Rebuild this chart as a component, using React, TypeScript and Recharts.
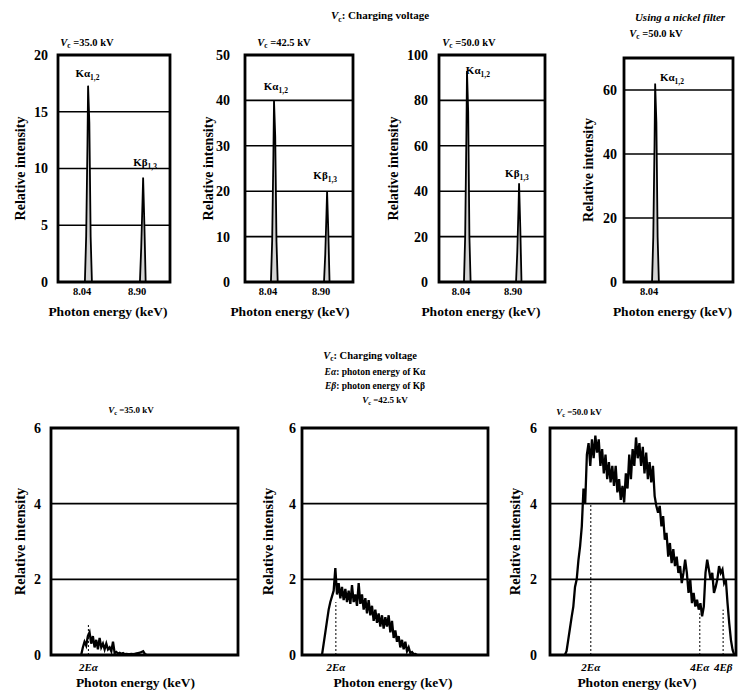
import React from 'react';
import {
  ComposedChart,
  Line,
  Area,
  XAxis,
  YAxis,
  CartesianGrid,
  ReferenceArea,
  ReferenceLine,
  ReferenceDot,
} from 'recharts';

const FONT = "'Liberation Serif', 'DejaVu Serif', serif";

// ---------- Top row: characteristic X-ray lines ----------
const peakEnergies = [7.57, 7.99, 8.01, 8.03, 8.04, 8.06, 8.08, 8.1, 8.85, 8.87, 8.89, 8.9, 8.92, 8.94, 9.32];
const peakIntensity35 = [0, 0, 4, 12, 17.3, 14, 4, 0, 0, 3, 7, 9.2, 5, 0, 0];
const peakIntensity42 = [0, 0, 9, 28, 40, 32, 9, 0, 0, 6, 15, 20, 11, 0, 0];
const peakIntensity50 = [0, 0, 20, 65, 93, 75, 20, 0, 0, 13, 32, 43.5, 24, 0, 0];
const nickelEnergies = [7.54, 7.99, 8.01, 8.03, 8.04, 8.06, 8.08, 8.1, 9.29];
const nickelIntensity = [0, 0, 14, 43, 62, 50, 14, 0, 0];

const peakTicks = [8.04, 8.9];
const peakTickLabels = ['8.04', '8.90'];
const nickelTicks = [8.04];
const nickelTickLabels = ['8.04'];

// ---------- Bottom row: bremsstrahlung spectra ----------
const energy35 = [
  15, 15.25, 15.5, 15.75, 16, 16.25, 16.5, 16.75, 17, 17.25, 17.5, 17.75, 18, 18.25, 18.5, 18.75,
  19, 19.25, 19.5, 19.75, 20, 20.25, 20.5, 20.75, 21, 21.25, 21.5, 21.75, 22, 22.25, 22.5, 22.75,
  23, 23.25, 23.5, 23.75, 24, 24.25, 24.5, 24.75,
];
const spectrum35 = [
  0, 0.2, 0.35, 0.25, 0.5, 0.6, 0.3, 0.5, 0.2, 0.4, 0.15, 0.45, 0.2, 0.3, 0.15, 0.3,
  0.15, 0.2, 0.1, 0.35, 0.05, 0.08, 0.04, 0.06, 0.03, 0.05, 0.02, 0.03, 0.02, 0.02, 0.03, 0.02,
  0.03, 0.04, 0.05, 0.06, 0.08, 0.1, 0.03, 0,
];

const energy42 = [
  14, 14.25, 14.5, 14.75, 15, 15.25, 15.5, 15.75, 16, 16.25, 16.5, 16.75, 17, 17.25, 17.5, 17.75,
  18, 18.25, 18.5, 18.75, 19, 19.25, 19.5, 19.75, 20, 20.25, 20.5, 20.75, 21, 21.25, 21.5, 21.75,
  22, 22.25, 22.5, 22.75, 23, 23.25, 23.5, 23.75, 24, 24.25, 24.5, 24.75, 25, 25.25, 25.5, 25.75,
  26, 26.25, 26.5, 26.75, 27, 27.25, 27.5, 27.75, 28, 28.25,
];
const spectrum42 = [
  0, 0.3, 0.6, 0.9, 1.2, 1.4, 1.55, 1.7, 2.3, 1.6, 1.9, 1.5, 1.8, 1.45, 1.75, 1.4,
  1.7, 1.35, 1.85, 1.4, 1.6, 1.3, 1.9, 1.35, 1.6, 1.2, 1.5, 1.1, 1.45, 1.05, 1.3, 0.9,
  1.2, 0.85, 1.1, 0.75, 1.05, 0.7, 1.0, 0.75, 1.05, 0.6, 0.9, 0.45, 0.65, 0.35, 0.5, 0.2,
  0.4, 0.15, 0.35, 0.1, 0.2, 0.05, 0.08, 0.02, 0.03, 0,
];

const energy50 = [
  12.25, 12.5, 12.75, 13, 13.25, 13.5, 13.75, 14, 14.25, 14.5, 14.75, 15, 15.25, 15.5, 15.75, 16,
  16.25, 16.5, 16.75, 17, 17.25, 17.5, 17.75, 18, 18.25, 18.5, 18.75, 19, 19.25, 19.5, 19.75, 20,
  20.25, 20.5, 20.75, 21, 21.25, 21.5, 21.75, 22, 22.25, 22.5, 22.75, 23, 23.25, 23.5, 23.75, 24,
  24.25, 24.5, 24.75, 25, 25.25, 25.5, 25.75, 26, 26.25, 26.5, 26.75, 27, 27.25, 27.5, 27.75, 28,
  28.25, 28.5, 28.75, 29, 29.25, 29.5, 29.75, 30, 30.25, 30.5, 30.75, 31, 31.25, 31.5, 31.75, 32,
  32.25, 32.5, 32.75, 33, 33.25, 33.5, 33.75, 34, 34.25, 34.5, 34.75, 35, 35.25, 35.5, 35.75, 36,
  36.25, 36.5, 36.75, 37, 37.25,
];
const spectrum50 = [
  0, 0.1, 0.4, 0.7, 1.0, 1.28, 1.8, 2.0, 2.5, 2.88, 3.4, 4.4, 4.0, 5.3, 5.6, 5.0,
  5.7, 5.2, 5.8, 5.35, 5.7, 5.0, 5.44, 4.8, 5.3, 4.65, 5.1, 4.56, 5.0, 4.47, 5.0, 4.3,
  4.65, 4.1, 4.47, 4.03, 4.8, 4.4, 5.3, 4.65, 5.44, 5.0, 5.75, 5.2, 5.6, 5.0, 5.5, 4.8,
  5.35, 4.65, 5.1, 4.56, 5.0, 4.2, 3.94, 3.76, 3.94, 3.4, 3.67, 3.05, 3.23, 2.6, 2.96, 2.43,
  2.8, 2.35, 2.6, 2.17, 2.35, 1.9, 2.17, 2.52, 2.17, 1.64, 2.0, 1.37, 1.64, 1.28, 1.46, 1.2,
  1.37, 1.02, 1.28, 2.17, 2.52, 2.26, 2.0, 2.17, 1.64, 1.8, 2.0, 2.35, 2.17, 2.26, 1.9, 2.0,
  1.37, 0.84, 0.4, 0.13, 0,
];

const E_ALPHA2 = 16.08;
const E_ALPHA4 = 32.16;
const E_BETA4 = 35.6;
const harmonicTicks35 = [E_ALPHA2];
const harmonicTicks50 = [E_ALPHA2, E_ALPHA4, E_BETA4];
const harmonicLabels35 = ['2Eα'];
const harmonicLabels50 = ['2Eα', '4Eα', '4Eβ'];

type Mark = { x: number; top: number };
type PeakLabel = { x: number; y: number; base: string; sub: string };

interface PanelProps {
  box: [number, number, number, number];
  yAxisWidth: number;
  yTickGap: number;
  yLabelOffset: number;
  yLabelFont: number;
  yDomain: [number, number];
  yTicks: number[];
  xDomain: [number, number];
  xTicks: number[];
  xTickLabels: string[];
  xTickItalic: boolean;
  xTickFont: number;
  xTickDx: number;
  xTickGap: number;
  xLabelOffset: number;
  xLabelDx: number;
  energies: number[];
  intensities: number[];
  kind: 'peak' | 'spectrum';
  marks?: Mark[];
  labels?: PeakLabel[];
}

function Panel(p: PanelProps) {
  const [bl, bt, br, bb] = p.box;
  const W = br - bl + p.yAxisWidth + 2;
  const H = bb - bt + 10 + 40;
  const data = p.energies.map((e, i) => ({ e, v: p.intensities[i] }));
  const renderXTick = (props: any) => {
    const { x, y, payload } = props;
    const idx = p.xTicks.indexOf(payload.value);
    return (
      <text
        x={x + p.xTickDx}
        y={y}
        dy="0.71em"
        textAnchor="middle"
        fontFamily={FONT}
        fontWeight="bold"
        fontStyle={p.xTickItalic ? 'italic' : 'normal'}
        fontSize={p.xTickFont}
        fill="#000"
      >
        {idx >= 0 ? p.xTickLabels[idx] : payload.value}
      </text>
    );
  };
  return (
    <div style={{ position: 'absolute', left: bl - p.yAxisWidth, top: bt - 10 }}>
      <ComposedChart width={W} height={H} data={data} margin={{ top: 10, right: 2, bottom: 0, left: 0 }}>
        <CartesianGrid horizontal vertical={false} stroke="#000" strokeWidth={1.6} />
        <XAxis
          type="number"
          dataKey="e"
          domain={p.xDomain}
          ticks={p.xTicks}
          allowDataOverflow
          interval={0}
          height={40}
          axisLine={false}
          tickLine={false}
          tickSize={0}
          tickMargin={p.xTickGap}
          tick={renderXTick}
          label={{
            value: 'Photon energy (keV)',
            position: 'insideBottom',
            offset: p.xLabelOffset,
            dx: p.xLabelDx,
            fill: '#000',
            style: { fontFamily: FONT, fontWeight: 'bold', fontSize: 13.5, fill: '#000' },
          }}
        />
        <YAxis
          type="number"
          domain={p.yDomain}
          ticks={p.yTicks}
          allowDataOverflow
          interval={0}
          width={p.yAxisWidth}
          axisLine={false}
          tickLine={false}
          tickSize={0}
          tickMargin={p.yTickGap}
          tick={{ fontFamily: FONT, fontWeight: 'bold', fontSize: 14, fill: '#000' }}
          label={{
            value: 'Relative intensity',
            angle: -90,
            position: 'insideLeft',
            offset: p.yLabelOffset,
            fill: '#000',
            style: { textAnchor: 'middle', fontFamily: FONT, fontWeight: 'bold', fontSize: p.yLabelFont, fill: '#000' },
          }}
        />
        {p.kind === 'peak' ? (
          <Area
            type="linear"
            dataKey="v"
            stroke="#000"
            strokeWidth={1.8}
            fill="#d4d4d4"
            fillOpacity={1}
            isAnimationActive={false}
          />
        ) : (
          <Line type="linear" dataKey="v" stroke="#000" strokeWidth={2.3} dot={false} isAnimationActive={false} />
        )}
        {(p.marks || []).map((m, i) => (
          <ReferenceLine
            key={'m' + i}
            segment={[
              { x: m.x, y: 0 },
              { x: m.x, y: m.top },
            ]}
            stroke="#000"
            strokeWidth={1}
            strokeDasharray="2 2"
          />
        ))}
        <ReferenceArea
          x1={p.xDomain[0]}
          x2={p.xDomain[1]}
          y1={p.yDomain[0]}
          y2={p.yDomain[1]}
          fill="none"
          fillOpacity={0}
          stroke="#000"
          strokeWidth={2.8}
          ifOverflow="visible"
        />
        {(p.labels || []).map((l, i) => (
          <ReferenceDot
            key={'l' + i}
            x={l.x}
            y={l.y}
            r={0}
            ifOverflow="visible"
            shape={(s: any) => (
              <text
                x={s.cx}
                y={s.cy}
                dy="0.35em"
                textAnchor="middle"
                fontFamily={FONT}
                fontWeight="bold"
                fontSize={11}
                fill="#000"
              >
                {l.base}
                <tspan fontSize={7.5} dy={3}>
                  {l.sub}
                </tspan>
              </text>
            )}
          />
        ))}
      </ComposedChart>
    </div>
  );
}

function VcText({ x, y, size, rest }: { x: number; y: number; size: number; rest: string }) {
  return (
    <text x={x} y={y} dy="0.35em" textAnchor="middle" fontFamily={FONT} fontWeight="bold" fontSize={size} fill="#000">
      <tspan fontStyle="italic">V</tspan>
      <tspan fontSize={size * 0.7} dy={size * 0.25}>
        c
      </tspan>
      <tspan dy={-size * 0.25}>{rest}</tspan>
    </text>
  );
}

function EText({ x, y, size, g, rest }: { x: number; y: number; size: number; g: string; rest: string }) {
  return (
    <text x={x} y={y} dy="0.35em" textAnchor="middle" fontFamily={FONT} fontWeight="bold" fontSize={size} fill="#000">
      <tspan fontStyle="italic">E{g}</tspan>
      <tspan>{rest}</tspan>
    </text>
  );
}

export default function App() {
  const top = {
    yAxisWidth: 58,
    yLabelFont: 14,
    xTickItalic: false,
    xTickFont: 10.5,
    xTickDx: -6,
    xTickGap: 6,
    xLabelOffset: 6,
    kind: 'peak' as const,
  };
  const bottom = {
    yAxisWidth: 45,
    yLabelFont: 14.5,
    xTickItalic: true,
    xTickFont: 11,
    xTickDx: 0,
    xTickGap: 8,
    xLabelOffset: 8,
    yDomain: [0, 6] as [number, number],
    yTicks: [0, 2, 4, 6],
    kind: 'spectrum' as const,
  };
  return (
    <div style={{ position: 'absolute', left: 0, top: 0, width: 739, height: 698, background: '#fff', overflow: 'hidden' }}>
      <Panel
        {...top}
        box={[58, 55, 170, 282]}
        yTickGap={10}
        yLabelOffset={20}
        yDomain={[0, 20]}
        yTicks={[0, 5, 10, 15, 20]}
        xDomain={[7.57, 9.32]}
        xTicks={peakTicks}
        xTickLabels={peakTickLabels}
        xLabelDx={-6}
        energies={peakEnergies}
        intensities={peakIntensity35}
        labels={[
          { x: 8.03, y: 18.4, base: 'Kα', sub: '1,2' },
          { x: 8.93, y: 10.6, base: 'Kβ', sub: '1,3' },
        ]}
      />
      <Panel
        {...top}
        box={[245, 55, 353, 282]}
        yTickGap={15}
        yLabelOffset={21}
        yDomain={[0, 50]}
        yTicks={[0, 10, 20, 30, 40, 50]}
        xDomain={[7.57, 9.32]}
        xTicks={peakTicks}
        xTickLabels={peakTickLabels}
        xLabelDx={-9}
        energies={peakEnergies}
        intensities={peakIntensity42}
        labels={[
          { x: 8.07, y: 43.2, base: 'Kα', sub: '1,2' },
          { x: 8.87, y: 23.6, base: 'Kβ', sub: '1,3' },
        ]}
      />
      <Panel
        {...top}
        box={[439, 55, 545, 282]}
        yTickGap={11}
        yLabelOffset={12}
        yDomain={[0, 100]}
        yTicks={[0, 20, 40, 60, 80, 100]}
        xDomain={[7.578, 9.328]}
        xTicks={peakTicks}
        xTickLabels={peakTickLabels}
        xLabelDx={-11}
        energies={peakEnergies}
        intensities={peakIntensity50}
        labels={[
          { x: 8.22, y: 93.4, base: 'Kα', sub: '1,2' },
          { x: 8.865, y: 48, base: 'Kβ', sub: '1,3' },
        ]}
      />
      <Panel
        {...top}
        box={[624, 58, 733, 282]}
        yTickGap={7}
        yLabelOffset={22}
        yDomain={[0, 70]}
        yTicks={[0, 20, 40, 60]}
        xDomain={[7.54, 9.29]}
        xTicks={nickelTicks}
        xTickLabels={nickelTickLabels}
        xLabelDx={-6}
        energies={nickelEnergies}
        intensities={nickelIntensity}
        labels={[{ x: 8.31, y: 64, base: 'Kα', sub: '1,2' }]}
      />

      <Panel
        {...bottom}
        box={[51, 428, 238, 655]}
        yTickGap={10}
        yLabelOffset={14}
        xDomain={[10.5, 38.4]}
        xTicks={harmonicTicks35}
        xTickLabels={harmonicLabels35}
        xLabelDx={-9}
        energies={energy35}
        intensities={spectrum35}
        marks={[{ x: E_ALPHA2, top: 0.8 }]}
      />
      <Panel
        {...bottom}
        box={[302, 428, 488, 655]}
        yTickGap={6}
        yLabelOffset={11}
        xDomain={[11, 38.9]}
        xTicks={harmonicTicks35}
        xTickLabels={harmonicLabels35}
        xLabelDx={-2}
        energies={energy42}
        intensities={spectrum42}
        marks={[{ x: E_ALPHA2, top: 1.4 }]}
      />
      <Panel
        {...bottom}
        box={[550, 428, 736, 655]}
        yTickGap={13}
        yLabelOffset={10}
        xDomain={[10.06, 37.5]}
        xTicks={harmonicTicks50}
        xTickLabels={harmonicLabels50}
        xLabelDx={-6}
        energies={energy50}
        intensities={spectrum50}
        marks={[
          { x: E_ALPHA2, top: 4.0 },
          { x: E_ALPHA4, top: 1.1 },
          { x: E_BETA4, top: 1.2 },
        ]}
      />

      <svg width={739} height={698} style={{ position: 'absolute', left: 0, top: 0, pointerEvents: 'none' }}>
        <VcText x={380} y={15} size={11} rest=": Charging voltage" />
        <VcText x={87} y={42} size={10.5} rest=" =35.0 kV" />
        <VcText x={284} y={42} size={10.5} rest=" =42.5 kV" />
        <VcText x={469} y={42} size={10.5} rest=" =50.0 kV" />
        <text
          x={680}
          y={17}
          dy="0.35em"
          textAnchor="middle"
          fontFamily={FONT}
          fontWeight="bold"
          fontStyle="italic"
          fontSize={11}
          fill="#000"
        >
          Using a nickel filter
        </text>
        <VcText x={656} y={33} size={10.5} rest=" =50.0 kV" />

        <VcText x={370} y={355} size={10.5} rest=": Charging voltage" />
        <EText x={375} y={372} size={9.5} g="α" rest=": photon energy of Kα" />
        <EText x={375} y={386} size={9.5} g="β" rest=": photon energy of Kβ" />
        <VcText x={385} y={400} size={9} rest=" =42.5 kV" />
        <VcText x={131} y={410} size={9} rest=" =35.0 kV" />
        <VcText x={579} y={412} size={9} rest=" =50.0 kV" />
      </svg>
    </div>
  );
}
